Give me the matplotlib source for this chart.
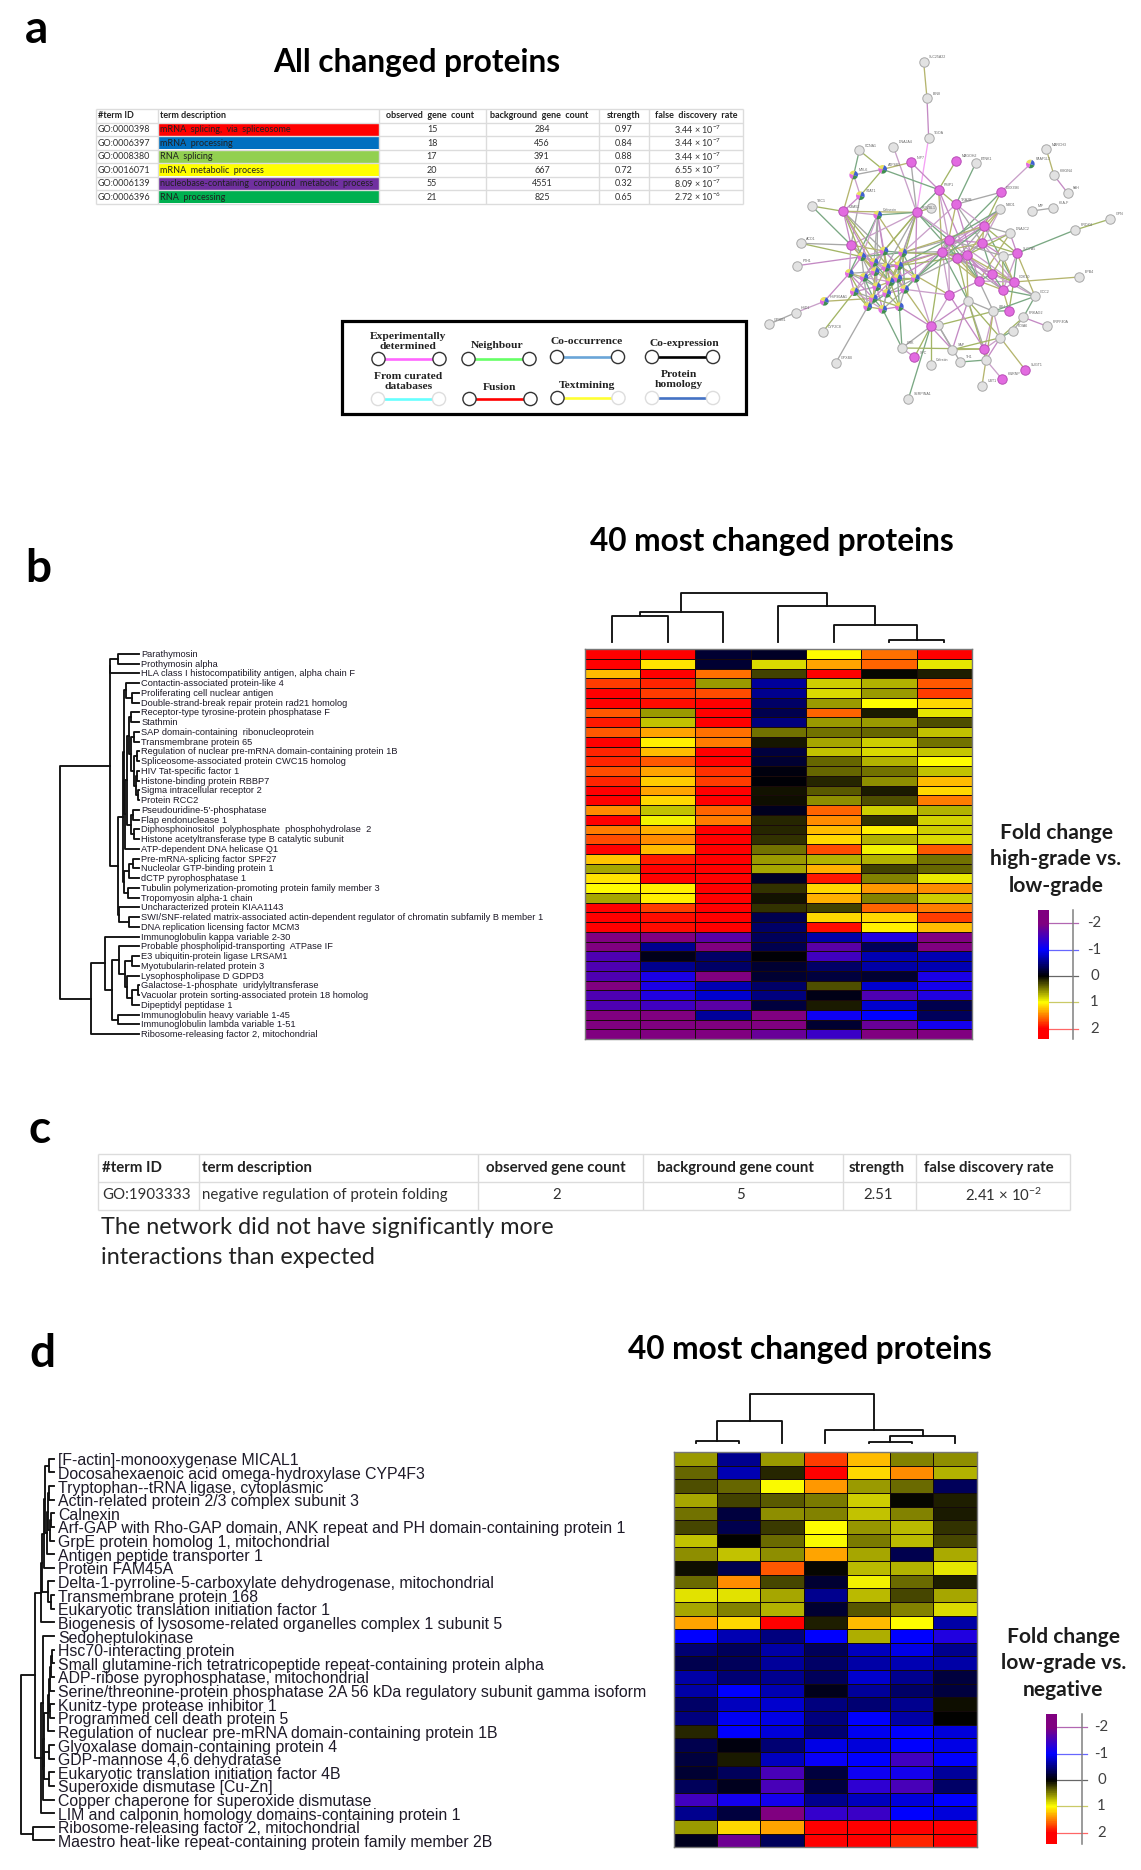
import numpy as np
import matplotlib
matplotlib.use("Agg")
import matplotlib.pyplot as plt
from matplotlib.collections import LineCollection
from matplotlib.colors import LinearSegmentedColormap
from matplotlib.patches import Circle, Rectangle, Wedge

plt.rcParams["mathtext.default"] = "regular"

W, H = 1141, 1870

# -----------------------------
# Panel a: enrichment table
# -----------------------------
a_header = ["#term ID", "term description", "observed  gene  count",
            "background  gene  count", "strength", "false  discovery  rate"]
a_ids = ["GO:0000398", "GO:0006397", "GO:0008380", "GO:0016071", "GO:0006139", "GO:0006396"]
a_terms = ["mRNA  splicing,  via  spliceosome", "mRNA  processing", "RNA  splicing",
           "mRNA  metabolic  process", "nucleobase-containing  compound  metabolic  process",
           "RNA  processing"]
a_term_colors = ["#ff0000", "#0070c0", "#92d050", "#ffff00", "#7030a0", "#00b050"]
a_observed = [15, 18, 17, 20, 55, 21]
a_background = [284, 456, 391, 667, 4551, 825]
a_strength = ["0.97", "0.84", "0.88", "0.72", "0.32", "0.65"]
a_fdr = ["3.44 × 10$^{-7}$", "3.44 × 10$^{-7}$", "3.44 × 10$^{-7}$",
         "6.55 × 10$^{-7}$", "8.09 × 10$^{-7}$", "2.72 × 10$^{-6}$"]

# edge type legend
edge_labels = ["Experimentally\ndetermined", "Neighbour", "Co-occurrence", "Co-expression",
               "From curated\ndatabases", "Fusion", "Textmining", "Protein\nhomology"]
edge_colors = ["#ff66ff", "#66ff66", "#6aa5d8", "#000000", "#66ffff", "#ff0000", "#ffff33", "#4472c4"]

# -----------------------------
# Panel a: network
# -----------------------------
node_x = [551, 561, 566, 358, 460, 513, 648, 707, 871, 919, 942, 983, 428, 341, 361, 596, 782, 648,
          215, 310, 413, 530, 572, 780, 876, 939, 1111, 1005, 732, 810, 626, 727, 183, 333, 606, 652,
          680, 788, 831, 172, 717, 757, 1018, 821, 789, 628, 684, 885, 253, 167, 86, 248, 760, 807,
          850, 922, 818, 781, 572, 595, 486, 523, 637, 733, 738, 661, 572, 287, 856, 786, 726, 505,
          365, 432, 488, 402, 476, 328, 372, 438, 526, 473, 343, 410, 494, 400, 383, 428, 478, 440,
          405, 450]
node_y = [96, 205, 323, 361, 350, 397, 392, 400, 402, 358, 436, 489, 418, 435, 497, 479, 487, 523,
          528, 544, 555, 547, 534, 538, 543, 534, 567, 600, 588, 610, 629, 638, 640, 645, 665, 683,
          676, 678, 670, 707, 753, 731, 741, 756, 780, 795, 812, 799, 814, 848, 883, 906, 844, 842,
          862, 889, 903, 923, 889, 886, 954, 982, 959, 957, 990, 996, 1005, 999, 1020, 1047, 1067, 1107,
          680, 663, 668, 697, 707, 730, 742, 712, 745, 745, 785, 770, 778, 805, 830, 838, 830, 790,
          725, 755]
pink_nodes = [5, 6, 15, 16, 17, 19, 21, 28, 30, 31, 33, 34, 35, 36, 38, 40, 41, 43, 44, 45, 53, 58, 61, 63, 68, 69]
mixed_nodes = [8, 12, 13, 14, 20, 48, 72, 73, 74, 75, 76, 77, 78, 79, 80, 81, 82, 83, 84, 85, 86, 87, 88, 89, 90, 91]
node_names = {0: "SLC25A22", 1: "BIN8", 2: "TGOA", 3: "CCNA1", 4: "DNAJA4", 5: "NIP7", 6: "MAGOH2", 7: "ETNK1",
              8: "PAAF1L3", 9: "MARCH3", 10: "HMGN4", 11: "FAH", 12: "ATP8B1", 13: "MYL6", 14: "STAT1",
              15: "PSIP1", 16: "DDX39B", 17: "TRA2B", 18: "TBC1", 19: "UBA52", 20: "Calnexin",
              21: "RUVBL1", 23: "NRD1", 24: "MIF", 25: "HLA-F", 26: "GPN", 27: "PRDX4", 29: "DNAJC2",
              32: "ACO1", 38: "SLC7A5", 39: "FTH1", 42: "EPB4", 43: "CDK10", 47: "GCC2", 48: "HSP90AA1",
              49: "HSD1", 50: "GPSM1", 51: "CYP2C8", 52: "LBH", 54: "PRKAG2", 55: "PRPF40A", 56: "PDIA6",
              60: "CRK", 61: "SPC", 62: "SAP", 65: "TH1", 66: "Calretin", 67: "GPX4B", 68: "SUGT1",
              69: "HNRNP", 70: "UBT1", 71: "SERPINA1"}
node_edges = [
    (0, 1), (1, 2), (2, 21), (3, 12), (3, 13), (4, 21), (5, 12), (5, 15), (5, 21), (6, 15), (7, 17), (8, 16),
    (9, 10), (10, 11), (12, 13), (12, 14), (12, 15), (13, 14), (13, 19), (14, 19), (14, 33), (15, 17), (15, 21),
    (15, 30), (15, 34), (15, 36), (16, 17), (16, 28), (16, 34), (17, 28), (17, 30), (17, 40), (17, 31), (18, 19),
    (18, 33), (19, 20), (19, 21), (19, 33), (19, 73), (19, 81), (20, 21), (20, 73), (20, 74), (20, 79), (20, 75),
    (21, 22), (21, 30), (21, 33), (21, 73), (21, 74), (21, 76), (21, 75), (21, 35), (21, 43), (23, 28), (23, 34),
    (24, 25), (26, 27), (27, 38), (28, 30), (28, 31), (28, 34), (28, 35), (28, 38), (28, 43), (29, 31), (29, 40),
    (30, 31), (30, 34), (30, 35), (30, 40), (30, 44), (31, 34), (31, 35), (31, 36), (31, 38), (31, 41), (31, 43),
    (33, 73), (33, 72), (33, 75), (34, 35), (34, 36), (34, 45), (34, 40), (34, 41), (34, 74), (34, 58), (34, 80),
    (35, 36), (35, 40), (35, 41), (35, 44), (35, 46), (36, 40), (36, 41), (36, 43), (36, 44), (37, 38), (37, 44),
    (38, 43), (38, 44), (38, 47), (39, 72), (32, 33), (32, 72), (40, 41), (40, 43), (40, 44), (40, 45), (40, 52),
    (41, 43), (41, 44), (41, 47), (42, 43), (43, 44), (43, 47), (43, 53), (44, 47), (45, 58), (45, 76), (46, 58),
    (46, 63), (46, 64), (47, 54), (48, 49), (48, 85), (48, 77), (49, 50), (51, 82), (52, 53), (52, 63), (53, 44),
    (54, 55), (54, 56), (54, 57), (56, 57), (57, 63), (57, 68), (58, 59), (58, 60), (58, 61), (58, 71), (58, 80),
    (58, 84), (58, 88), (59, 62), (59, 52), (60, 87), (60, 61), (62, 63), (62, 46), (63, 64), (63, 60), (64, 65),
    (64, 69), (64, 70), (64, 57), (67, 86), (66, 58), (88, 60), (72, 73), (72, 75), (72, 77), (72, 78), (72, 90),
    (73, 74), (73, 75), (73, 79), (73, 76), (74, 76), (74, 79), (74, 80), (75, 79), (75, 90), (75, 78), (75, 76),
    (76, 79), (76, 81), (76, 80), (77, 78), (77, 82), (77, 90), (78, 90), (78, 83), (78, 82), (79, 90), (79, 91),
    (79, 81), (80, 81), (80, 84), (81, 91), (81, 84), (82, 83), (82, 85), (82, 86), (83, 85), (83, 89), (83, 91),
    (84, 89), (84, 88), (85, 86), (85, 87), (85, 89), (86, 87), (87, 88), (87, 89), (88, 89), (89, 91), (90, 91),
    (90, 83), (90, 79), (72, 83), (73, 91), (74, 84), (75, 83), (76, 89), (77, 85), (78, 86), (79, 89), (81, 88),
    (33, 77), (33, 90), (34, 81), (30, 74), (35, 76), (34, 84), (45, 84), (28, 74), (21, 80), (20, 83), (19, 72),
    (72, 74), (72, 79), (72, 91), (73, 78), (73, 90), (74, 91), (75, 91), (75, 81), (76, 91), (76, 84), (77, 83),
    (77, 86), (78, 85), (78, 91), (79, 83), (79, 84), (80, 89), (80, 91), (81, 89), (82, 87), (83, 86), (83, 87),
    (84, 87), (85, 88), (86, 89), (90, 82), (90, 85), (91, 85), (91, 87), (91, 88), (20, 77), (20, 72), (19, 75),
    (19, 90), (21, 79), (21, 81), (30, 76), (30, 80), (34, 76), (34, 79), (35, 80), (36, 74), (28, 80), (17, 74),
    (43, 37), (37, 31), (37, 30), (37, 41), (23, 30), (23, 31), (23, 36), (29, 38), (29, 28), (29, 36), (34, 46),
    (30, 45), (36, 46), (45, 63), (46, 52), (46, 57), (47, 52), (52, 57), (52, 64), (58, 62), (59, 65), (62, 57),
]

# -----------------------------
# Panel b: heatmap, high-grade vs. low-grade
# -----------------------------
b_proteins = [
    "Parathymosin", "Prothymosin alpha", "HLA class I histocompatibility antigen, alpha chain F",
    "Contactin-associated protein-like 4", "Proliferating cell nuclear antigen",
    "Double-strand-break repair protein rad21 homolog", "Receptor-type tyrosine-protein phosphatase F",
    "Stathmin", "SAP domain-containing  ribonucleoprotein", "Transmembrane protein 65",
    "Regulation of nuclear pre-mRNA domain-containing protein 1B", "Spliceosome-associated protein CWC15 homolog",
    "HIV Tat-specific factor 1", "Histone-binding protein RBBP7", "Sigma intracellular receptor 2", "Protein RCC2",
    "Pseudouridine-5'-phosphatase", "Flap endonuclease 1", "Diphosphoinositol  polyphosphate  phosphohydrolase  2",
    "Histone acetyltransferase type B catalytic subunit", "ATP-dependent DNA helicase Q1",
    "Pre-mRNA-splicing factor SPF27", "Nucleolar GTP-binding protein 1", "dCTP pyrophosphatase 1",
    "Tubulin polymerization-promoting protein family member 3", "Tropomyosin alpha-1 chain",
    "Uncharacterized protein KIAA1143",
    "SWI/SNF-related matrix-associated actin-dependent regulator of chromatin subfamily B member 1",
    "DNA replication licensing factor MCM3", "Immunoglobulin kappa variable 2-30",
    "Probable phospholipid-transporting  ATPase IF", "E3 ubiquitin-protein ligase LRSAM1",
    "Myotubularin-related protein 3", "Lysophospholipase D GDPD3", "Galactose-1-phosphate  uridylyltransferase",
    "Vacuolar protein sorting-associated protein 18 homolog", "Dipeptidyl peptidase 1",
    "Immunoglobulin heavy variable 1-45", "Immunoglobulin lambda variable 1-51",
    "Ribosome-releasing factor 2, mitochondrial",
]
b_values = [
    [2.0, 2.0, -0.2, -0.15, 1.0, 1.55, 2.0],
    [2.0, 1.1, -0.2, 0.85, 1.35, 1.6, 0.9],
    [1.25, 2.0, 1.55, 0.25, 2.0, 0.03, 0.12],
    [1.75, 1.85, 0.6, -0.6, 0.8, 0.7, 1.65],
    [2.0, 1.75, 1.7, -0.55, 0.85, 0.6, 1.75],
    [2.0, 1.95, 2.0, -0.4, 0.6, 1.0, 1.15],
    [1.65, 0.6, 2.0, -0.3, 1.6, 0.1, 0.9],
    [1.9, 0.75, 2.0, -0.5, 0.6, 0.6, 0.3],
    [1.65, 1.35, 1.55, 0.45, 0.45, 0.4, 0.75],
    [2.0, 1.05, 1.5, 0.08, 0.65, 0.8, 0.45],
    [1.85, 1.25, 2.0, -0.25, 0.75, 0.85, 0.78],
    [1.85, 1.65, 2.0, -0.2, 0.4, 0.7, 1.0],
    [1.7, 1.35, 1.8, -0.05, 0.4, 0.45, 0.75],
    [1.85, 1.2, 1.75, -0.03, 0.15, 0.55, 1.25],
    [2.0, 1.35, 2.0, 0.07, 0.35, 0.1, 1.15],
    [2.0, 1.15, 2.0, 0.05, 0.55, 0.3, 1.5],
    [1.45, 0.75, 1.6, -0.12, 1.6, 0.8, 0.7],
    [2.0, 0.95, 1.5, 0.15, 1.45, 0.2, 0.82],
    [1.5, 1.3, 2.0, 0.15, 1.25, 1.05, 0.8],
    [1.7, 1.45, 2.0, 0.2, 1.15, 0.7, 0.85],
    [2.0, 1.25, 2.0, 0.45, 1.7, 0.95, 1.65],
    [1.22, 1.9, 2.0, 0.6, 0.7, 0.7, 0.45],
    [0.65, 2.0, 2.0, 0.65, 1.3, 0.25, 0.4],
    [1.1, 2.0, 2.0, -0.15, 1.9, 0.5, 0.92],
    [1.0, 1.05, 2.0, 0.2, 1.15, 1.4, 1.45],
    [0.65, 1.05, 2.0, 0.07, 1.3, 0.5, 0.8],
    [2.0, 1.75, 2.0, 0.2, 0.25, 1.6, 1.5],
    [2.0, 1.95, 2.0, -0.3, 1.15, 1.15, 1.75],
    [2.0, 1.95, 2.0, -0.4, 1.95, 1.05, 1.25],
    [-2.0, -2.0, -1.7, -0.35, -0.65, -1.25, -2.0],
    [-2.0, -0.55, -2.0, -0.3, -1.7, -0.35, -2.0],
    [-1.6, -0.1, -0.4, -0.03, -1.5, -0.7, -0.7],
    [-1.6, -0.55, -0.4, -0.2, -0.4, -0.65, -0.7],
    [-1.6, -1.2, -2.0, -0.2, -0.25, -0.2, -1.2],
    [-2.0, -1.2, -0.7, -0.4, 0.3, -0.8, -1.15],
    [-1.6, -1.25, -0.8, -0.5, -0.08, -1.6, -1.25],
    [-1.6, -1.5, -1.7, -0.25, 0.1, -0.8, -0.3],
    [-2.0, -2.0, -0.6, -2.0, -1.1, -1.0, -0.35],
    [-2.0, -2.0, -2.0, -2.0, -0.2, -1.8, -1.15],
    [-2.0, -2.0, -2.0, -1.8, -1.45, -2.0, -2.0],
]
# merges: (left, right, height); >=0 is a leaf, -k is the k-th merge
b_col_merges = [(0, 1, 0.53), (-1, 2, 0.60), (5, 6, 0.034), (4, -3, 0.34), (3, -4, 0.73), (-2, -5, 1.0)]
b_row_merges = [
    (0, 1, .267), (-1, 2, .358), (4, 5, .078), (3, -3, .164), (6, 7, .095), (8, 9, .052), (10, 11, .026),
    (12, 13, .017), (14, 15, .009), (-8, -9, .034), (-7, -10, .060), (-6, -11, .095), (-5, -12, .121),
    (16, 17, .065), (18, 19, .056), (-14, -15, .095), (-13, -16, .151), (-17, 20, .172), (-4, -18, .185),
    (21, 22, .065), (-20, 23, .121), (24, 25, .138), (-21, -22, .185), (-19, -23, .194), (27, 28, .121),
    (26, -25, .246), (-24, -26, .267), (-2, -27, .366), (31, 32, .078), (34, 35, .013), (-30, 36, .086),
    (33, -31, .147), (-29, -32, .172), (30, -33, .25), (37, 38, .259), (-34, -35, .336), (29, -36, .431),
    (-37, 39, .603), (-28, -38, 1.0),
]

# -----------------------------
# Panel c: enrichment table
# -----------------------------
c_header = ["#term ID", "term description", "observed gene count", "background gene count",
            "strength", "false discovery rate"]
c_row = ["GO:1903333", "negative regulation of protein folding", "2", "5", "2.51", "2.41 × 10$^{-2}$"]

# -----------------------------
# Panel d: heatmap, low-grade vs. negative
# -----------------------------
d_proteins = [
    "[F-actin]-monooxygenase MICAL1", "Docosahexaenoic acid omega-hydroxylase CYP4F3",
    "Tryptophan--tRNA ligase, cytoplasmic", "Actin-related protein 2/3 complex subunit 3", "Calnexin",
    "Arf-GAP with Rho-GAP domain, ANK repeat and PH domain-containing protein 1",
    "GrpE protein homolog 1, mitochondrial", "Antigen peptide transporter 1", "Protein FAM45A",
    "Delta-1-pyrroline-5-carboxylate dehydrogenase, mitochondrial", "Transmembrane protein 168",
    "Eukaryotic translation initiation factor 1", "Biogenesis of lysosome-related organelles complex 1 subunit 5",
    "Sedoheptulokinase", "Hsc70-interacting protein",
    "Small glutamine-rich tetratricopeptide repeat-containing protein alpha",
    "ADP-ribose pyrophosphatase, mitochondrial",
    "Serine/threonine-protein phosphatase 2A 56 kDa regulatory subunit gamma isoform",
    "Kunitz-type protease inhibitor 1", "Programmed cell death protein 5",
    "Regulation of nuclear pre-mRNA domain-containing protein 1B", "Glyoxalase domain-containing protein 4",
    "GDP-mannose 4,6 dehydratase", "Eukaryotic translation initiation factor 4B", "Superoxide dismutase [Cu-Zn]",
    "Copper chaperone for superoxide dismutase", "LIM and calponin homology domains-containing protein 1",
    "Ribosome-releasing factor 2, mitochondrial", "Maestro heat-like repeat-containing protein family member 2B",
]
d_values = [
    [0.6, -0.55, 0.6, 1.75, 1.25, 0.5, 0.55],
    [0.4, -0.7, 0.15, 2.0, 1.15, 1.45, 0.7],
    [0.3, 0.4, 0.97, 1.4, 0.6, 0.42, -0.35],
    [0.65, 0.25, 0.35, 0.48, 0.8, 0.03, 0.12],
    [0.45, -0.25, 0.55, 0.5, 0.75, 0.5, 0.1],
    [0.27, -0.3, 0.23, 1.0, 0.58, 0.72, 0.2],
    [0.75, 0.0, 0.42, 0.97, 0.47, 0.72, 0.28],
    [0.55, 0.75, 0.55, 1.35, 0.65, -0.3, 0.67],
    [0.05, -0.3, 1.65, 0.03, 0.73, 0.7, 0.9],
    [0.42, 1.45, 0.28, -0.2, 0.95, 0.42, 0.12],
    [0.88, 0.88, 0.65, -0.55, 0.72, 0.27, 0.65],
    [0.65, 0.5, 0.7, -0.2, 0.33, 0.5, 0.85],
    [1.35, 1.15, 2.0, 0.12, 1.25, 1.0, -0.65],
    [-1.0, -0.7, -0.5, -1.0, 0.68, -1.0, -1.25],
    [-0.45, -0.35, -0.65, -0.35, -0.75, -0.9, -0.55],
    [-0.3, -0.35, -0.6, -0.4, -0.65, -0.7, -0.65],
    [-0.65, -0.45, -0.55, -0.35, -0.8, -0.55, -0.25],
    [-0.65, -1.0, -0.7, -0.1, -0.6, -0.4, -0.25],
    [-0.4, -0.75, -0.8, -0.5, -0.45, -0.55, 0.05],
    [-0.5, -0.95, -0.9, -0.5, -1.0, -0.65, 0.0],
    [0.15, -1.0, -0.85, -0.45, -0.95, -1.0, -0.85],
    [-0.3, -0.05, -0.45, -0.9, -0.85, -1.0, -0.9],
    [-0.25, 0.1, -0.75, -1.05, -1.0, -1.5, -1.0],
    [-0.2, -0.35, -1.55, -0.25, -1.1, -1.15, -0.6],
    [-0.35, -0.12, -1.55, -0.25, -1.35, -1.55, -0.4],
    [-1.5, -1.15, -1.15, -0.55, -0.75, -0.85, -1.0],
    [-0.55, -0.25, -2.0, -1.4, -1.45, -1.0, -0.85],
    [0.6, 1.15, 1.35, 2.0, 2.0, 2.0, 2.0],
    [-0.12, -1.85, -0.35, 2.0, 2.0, 1.85, 2.0],
]
d_col_merges = [(0, 1, 0.047), (-1, 2, 0.46), (4, 5, 0.02), (-3, 6, 0.155), (3, -4, 0.27), (-2, -5, 1.0)]
d_row_merges = [
    (0, 1, .145), (2, 3, .13), (4, 5, .08), (-3, 6, .105), (-2, -4, .17), (-5, 7, .2), (-1, -6, .276), (-7, 8, .30),
    (10, 11, .08), (9, -9, .17), (-8, -10, .355), (-11, 12, .395), (14, 15, .05), (-13, 16, .066), (-14, 17, .105),
    (18, 19, .118), (-15, -16, .145), (-17, 20, .17), (21, 22, .145), (23, 24, .145), (-19, -20, .30),
    (-18, -21, .30), (-22, 25, .33), (13, -23, .33), (-24, 26, .395), (-12, -25, .59), (27, 28, .63),
    (-26, -27, 1.0),
]

scale_ticks = [-2, -1, 0, 1, 2]
scale_tick_colors = ["#800080", "#0000ff", "#000000", "#a8a800", "#ff0000"]

heat_cmap = LinearSegmentedColormap.from_list(
    "fold", ["#800080", "#0000ff", "#000000", "#ffff00", "#ff0000"])

SANS = "Lato"
ARIAL = "Liberation Sans"
SERIF = "Liberation Serif"


def px(size):
    # font size given in image pixels
    return size * 0.72


fig = plt.figure(figsize=(W / 100, H / 100), dpi=100, facecolor="white")

# page axes, in image pixels, for tables and captions
page = fig.add_axes([0, 0, 1, 1])
page.set_xlim(0, W)
page.set_ylim(H, 0)
page.axis("off")


def box_axes(x0, y0, x1, y1):
    ax = fig.add_axes([x0 / W, 1 - y1 / H, (x1 - x0) / W, (y1 - y0) / H])
    ax.patch.set_alpha(0)
    return ax


def draw_table(x_edges, y_edges, color, lw):
    page.vlines(x_edges, y_edges[0], y_edges[-1], color=color, lw=lw)
    page.hlines(y_edges, x_edges[0], x_edges[-1], color=color, lw=lw)


def draw_tree(ax, merges, horizontal):
    # dendrogram from a merge list; leaves sit at index + 0.5
    pos = []
    height = []
    segs = []
    for left, right, h in merges:
        pl = pos[-left - 1] if left < 0 else left + 0.5
        pr = pos[-right - 1] if right < 0 else right + 0.5
        hl = height[-left - 1] if left < 0 else 0
        hr = height[-right - 1] if right < 0 else 0
        pts = [(pl, hl), (pl, h), (pr, h), (pr, hr)]
        if horizontal:
            pts = [(b, a) for a, b in pts]
        segs.append(pts)
        pos.append((pl + pr) / 2)
        height.append(h)
    lc = LineCollection(segs, colors="#111111", linewidths=1.35, capstyle="projecting")
    lc.set_clip_on(False)
    ax.add_collection(lc)
    ax.axis("off")


def draw_heat_panel(values, proteins, col_merges, row_merges, heat_box, col_box, tree_box,
                    label_gap, label_size, label_shift, scale_box, scale_lims, axis_fracs,
                    tick_label_x, tick_size, edge):
    data = np.array(values)
    x0, y0, x1, y1 = heat_box
    ax = box_axes(x0, y0, x1, y1)
    ax.pcolormesh(np.arange(data.shape[1] + 1), np.arange(data.shape[0] + 1), data, cmap=heat_cmap,
                  vmin=-2, vmax=2, edgecolors=edge, linewidth=0.62)
    ax.set_ylim(data.shape[0], 0)
    ax.set_xticks([])
    ax.set_yticks([])
    for s in ax.spines.values():
        s.set_color("#777777")
        s.set_linewidth(1.0)

    ax_col = box_axes(*col_box)
    ax_col.set_xlim(0, data.shape[1])
    ax_col.set_ylim(0, 1)
    draw_tree(ax_col, col_merges, False)

    ax_row = box_axes(tree_box[0], y0, tree_box[1], y1)
    ax_row.set_xlim(1, 0)
    ax_row.set_ylim(data.shape[0], 0)
    draw_tree(ax_row, row_merges, True)
    for i, name in enumerate(proteins):
        ax_row.annotate(name, (0, i + 0.5), xytext=(px(label_gap), px(-label_shift)), textcoords="offset points",
                        family=ARIAL, fontsize=px(label_size), color="#1e1a28", va="center", ha="left",
                        annotation_clip=False)

    # colour scale
    ax_s = box_axes(*scale_box)
    grad = np.linspace(scale_lims[0], scale_lims[1], 200)
    ax_s.pcolormesh([0, 1], np.linspace(scale_lims[0], scale_lims[1], 201), grad[:, None], cmap=heat_cmap,
                    vmin=-2, vmax=2)
    ax_s.set_ylim(scale_lims[1], scale_lims[0])
    ax_s.set_xlim(0, 1)
    ax_s.axis("off")
    ty = ax_s.get_yaxis_transform()
    for t, c in zip(scale_ticks, scale_tick_colors):
        ax_s.plot([1, axis_fracs[1]], [t, t], color=c, lw=0.9, alpha=0.6, transform=ty, clip_on=False)
        ax_s.text(tick_label_x, t, str(t), transform=ty, family=SANS, fontsize=px(tick_size), color="#404040",
                  ha="center", va="center", clip_on=False)
    ax_s.plot([axis_fracs[0], axis_fracs[0]], [0, 1], color="#808080", lw=1.1, transform=ax_s.transAxes, clip_on=False)


# -----------------------------
# Panel letters and titles
# -----------------------------
for letter, x, y in [("a", 25, 43), ("b", 25, 582), ("c", 29, 1143), ("d", 29, 1367)]:
    page.text(x, y, letter, family=SANS, fontweight="bold", fontsize=px(46), va="baseline", ha="left", color="black")
page.text(417, 72, "All changed proteins", family=SANS, fontweight="bold", fontsize=px(31.6), ha="center", va="baseline")
page.text(772, 551, "40 most changed proteins", family=SANS, fontweight="bold", fontsize=px(31.6), ha="center", va="baseline")
page.text(810, 1359, "40 most changed proteins", family=SANS, fontweight="bold", fontsize=px(31.6), ha="center", va="baseline")

# -----------------------------
# Table a
# -----------------------------
ax_edges = [96, 158, 379, 485.5, 599, 649, 742.5]
ay_edges = [108.5, 122.5, 135.8, 149.5, 162.8, 176.5, 189.8, 203.5]
for i, c in enumerate(a_term_colors):
    page.add_patch(Rectangle((ax_edges[1], ay_edges[i + 1]), ax_edges[2] - ax_edges[1],
                             ay_edges[i + 2] - ay_edges[i + 1], color=c, lw=0, zorder=0))
draw_table(ax_edges, ay_edges, "#dcdcdc", 1.0)
a_head_x = [(98, "left"), (160.5, "left"), (429.5, "center"), (539, "center"), (624, "center"), (696, "center")]
for (x, ha), s in zip(a_head_x, a_header):
    page.text(x, 116, s, family=SANS, fontweight="bold", fontsize=px(9), ha=ha, va="center", color="#222222")
a_cols = [a_ids, a_terms, a_observed, a_background, a_strength, a_fdr]
a_col_x = [(98, "left"), (160.5, "left"), (432, "center"), (542, "center"), (624, "center"), (698, "center")]
for (x, ha), col in zip(a_col_x, a_cols):
    for i, s in enumerate(col):
        page.text(x, (ay_edges[i + 1] + ay_edges[i + 2]) / 2 + 0.5, str(s), family=SANS, fontsize=px(9), ha=ha,
                  va="center", color="#303030" if x != 160.5 else "#202020")

# -----------------------------
# Edge type legend
# -----------------------------
page.add_patch(Rectangle((341.5, 320.7), 404.5, 93.3, fill=False, ec="black", lw=2.3))
legend_x0 = [378.5, 468.5, 557, 652, 378, 469.5, 557.5, 652]
legend_y = [359, 359, 357, 357, 399, 399, 398, 398]
legend_span = 61
legend_text_x = [408, 497.5, 586.5, 684, 408.5, 500, 587.5, 679]
legend_text_y = [341.5, 345, 342, 343, 381.5, 388, 386, 379.5]
for i, (lab, c) in enumerate(zip(edge_labels, edge_colors)):
    x0, y = legend_x0[i], legend_y[i]
    x1 = x0 + legend_span
    ring = "#dddddd" if i in (4, 6, 7) else "#333333"
    page.plot([x0, x1], [y, y], color=c, lw=1.9, solid_capstyle="butt", zorder=2)
    left_ring = "#333333" if i == 6 else ring
    right_ring = "#dddddd" if i == 6 else ring
    page.add_patch(Circle((x0, y), 6.6, fc="white", ec=left_ring, lw=1.0, zorder=3))
    page.add_patch(Circle((x1, y), 6.6, fc="white", ec=right_ring, lw=1.0, zorder=3))
    page.text(legend_text_x[i], legend_text_y[i], lab, family=SERIF, fontweight="bold", fontsize=px(11.5),
              ha="center", va="center", linespacing=1.1, color="#222222")

# -----------------------------
# Network
# -----------------------------
net = box_axes(740, 30, 1140, 410)
net.set_xlim(0, 1200)
net.set_ylim(1140, 0)
net.axis("off")
net_palette = ["#b5b56e", "#c48ac4", "#a8a8a8", "#a3b566", "#7aa883", "#c9a0c9"]
net_segs = [[(node_x[a], node_y[a]), (node_x[b], node_y[b])] for a, b in node_edges]
net_cols = [net_palette[i % len(net_palette)] for i in range(len(node_edges))]
# the long upper spoke is plain pink
net_cols[2] = "#f5a0f5"
net.add_collection(LineCollection(net_segs, colors=net_cols, linewidths=0.95, zorder=1))
grey_nodes = [i for i in range(len(node_x)) if i not in pink_nodes and i not in mixed_nodes]
net.scatter([node_x[i] for i in grey_nodes], [node_y[i] for i in grey_nodes], s=46, c="#e2e2e2",
            edgecolors="#a8a8a8", linewidths=0.7, zorder=3)
net.scatter([node_x[i] for i in pink_nodes], [node_y[i] for i in pink_nodes], s=46, c="#e26be0",
            edgecolors="#b84fb6", linewidths=0.7, zorder=3)
mix_colors = ["#3f8f4f", "#e26be0", "#e8e060", "#4060d0"]
for i in mixed_nodes:
    for j, c in enumerate(mix_colors):
        net.add_patch(Wedge((node_x[i], node_y[i]), 13, 90 * j + 20, 90 * (j + 1) + 20, fc=c, lw=0, zorder=4))
for i, name in node_names.items():
    net.text(node_x[i] + 16, node_y[i] - 14, name, family=ARIAL, fontsize=2.6, color="#666666", va="center", zorder=5)

# -----------------------------
# Panel b
# -----------------------------
draw_heat_panel(b_values, b_proteins, b_col_merges, b_row_merges,
                heat_box=(584.6, 649, 972, 1039), col_box=(584.6, 592.7, 972, 641.7), tree_box=(59.7, 138.6),
                label_gap=2.6, label_size=9.3, label_shift=0.5,
                scale_box=(1037.5, 910, 1049, 1039.3), scale_lims=(-2.51, 2.4), axis_fracs=(3.08, 3.5),
                tick_label_x=4.95, tick_size=15, edge="#1a0a0a")
for i, s in enumerate(["Fold change", "high-grade vs.", "low-grade"]):
    page.text(1056, 832.7 + 26.5 * i, s, family=SANS, fontweight="bold", fontsize=px(21), ha="center", va="center",
              color="#1c1c1c")

# -----------------------------
# Table c
# -----------------------------
cx_edges = [98, 199, 478, 643, 842.5, 916, 1070]
cy_edges = [1154.3, 1182.3, 1210]
draw_table(cx_edges, cy_edges, "#dcdcdc", 1.0)
c_head_x = [(102, "left"), (202.5, "left"), (556, "center"), (735, "center"), (877, "center"), (989, "center")]
for (x, ha), s in zip(c_head_x, c_header):
    page.text(x, 1167.7, s, family=SANS, fontweight="bold", fontsize=px(15), ha=ha, va="center", color="#222222")
c_row_x = [(102, "left"), (202.5, "left"), (557, "center"), (741, "center"), (878, "center"), (1004, "center")]
for (x, ha), s in zip(c_row_x, c_row):
    page.text(x, 1195, s, family=SANS, fontsize=px(15), ha=ha, va="center", color="#303030")
page.text(101, 1227.5, "The network did not have significantly more", family=SANS, fontsize=px(23.4), va="center",
          color="#222222")
page.text(101, 1258, "interactions than expected", family=SANS, fontsize=px(23.4), va="center", color="#222222")

# -----------------------------
# Panel d
# -----------------------------
draw_heat_panel(d_values, d_proteins, d_col_merges, d_row_merges,
                heat_box=(674, 1452, 976.7, 1847.3), col_box=(674, 1394, 976.7, 1443.3), tree_box=(21.4, 53.6),
                label_gap=4.4, label_size=15.95, label_shift=2,
                scale_box=(1045.7, 1714, 1057.3, 1844), scale_lims=(-2.5, 2.42), axis_fracs=(3.14, 3.55),
                tick_label_x=4.8, tick_size=15, edge="#140a0a")
for i, s in enumerate(["Fold change", "low-grade vs.", "negative"]):
    page.text(1063.3, 1636.7 + 26.7 * i, s, family=SANS, fontweight="bold", fontsize=px(21), ha="center", va="center",
              color="#1c1c1c")

fig.savefig("out.png", dpi=100)
